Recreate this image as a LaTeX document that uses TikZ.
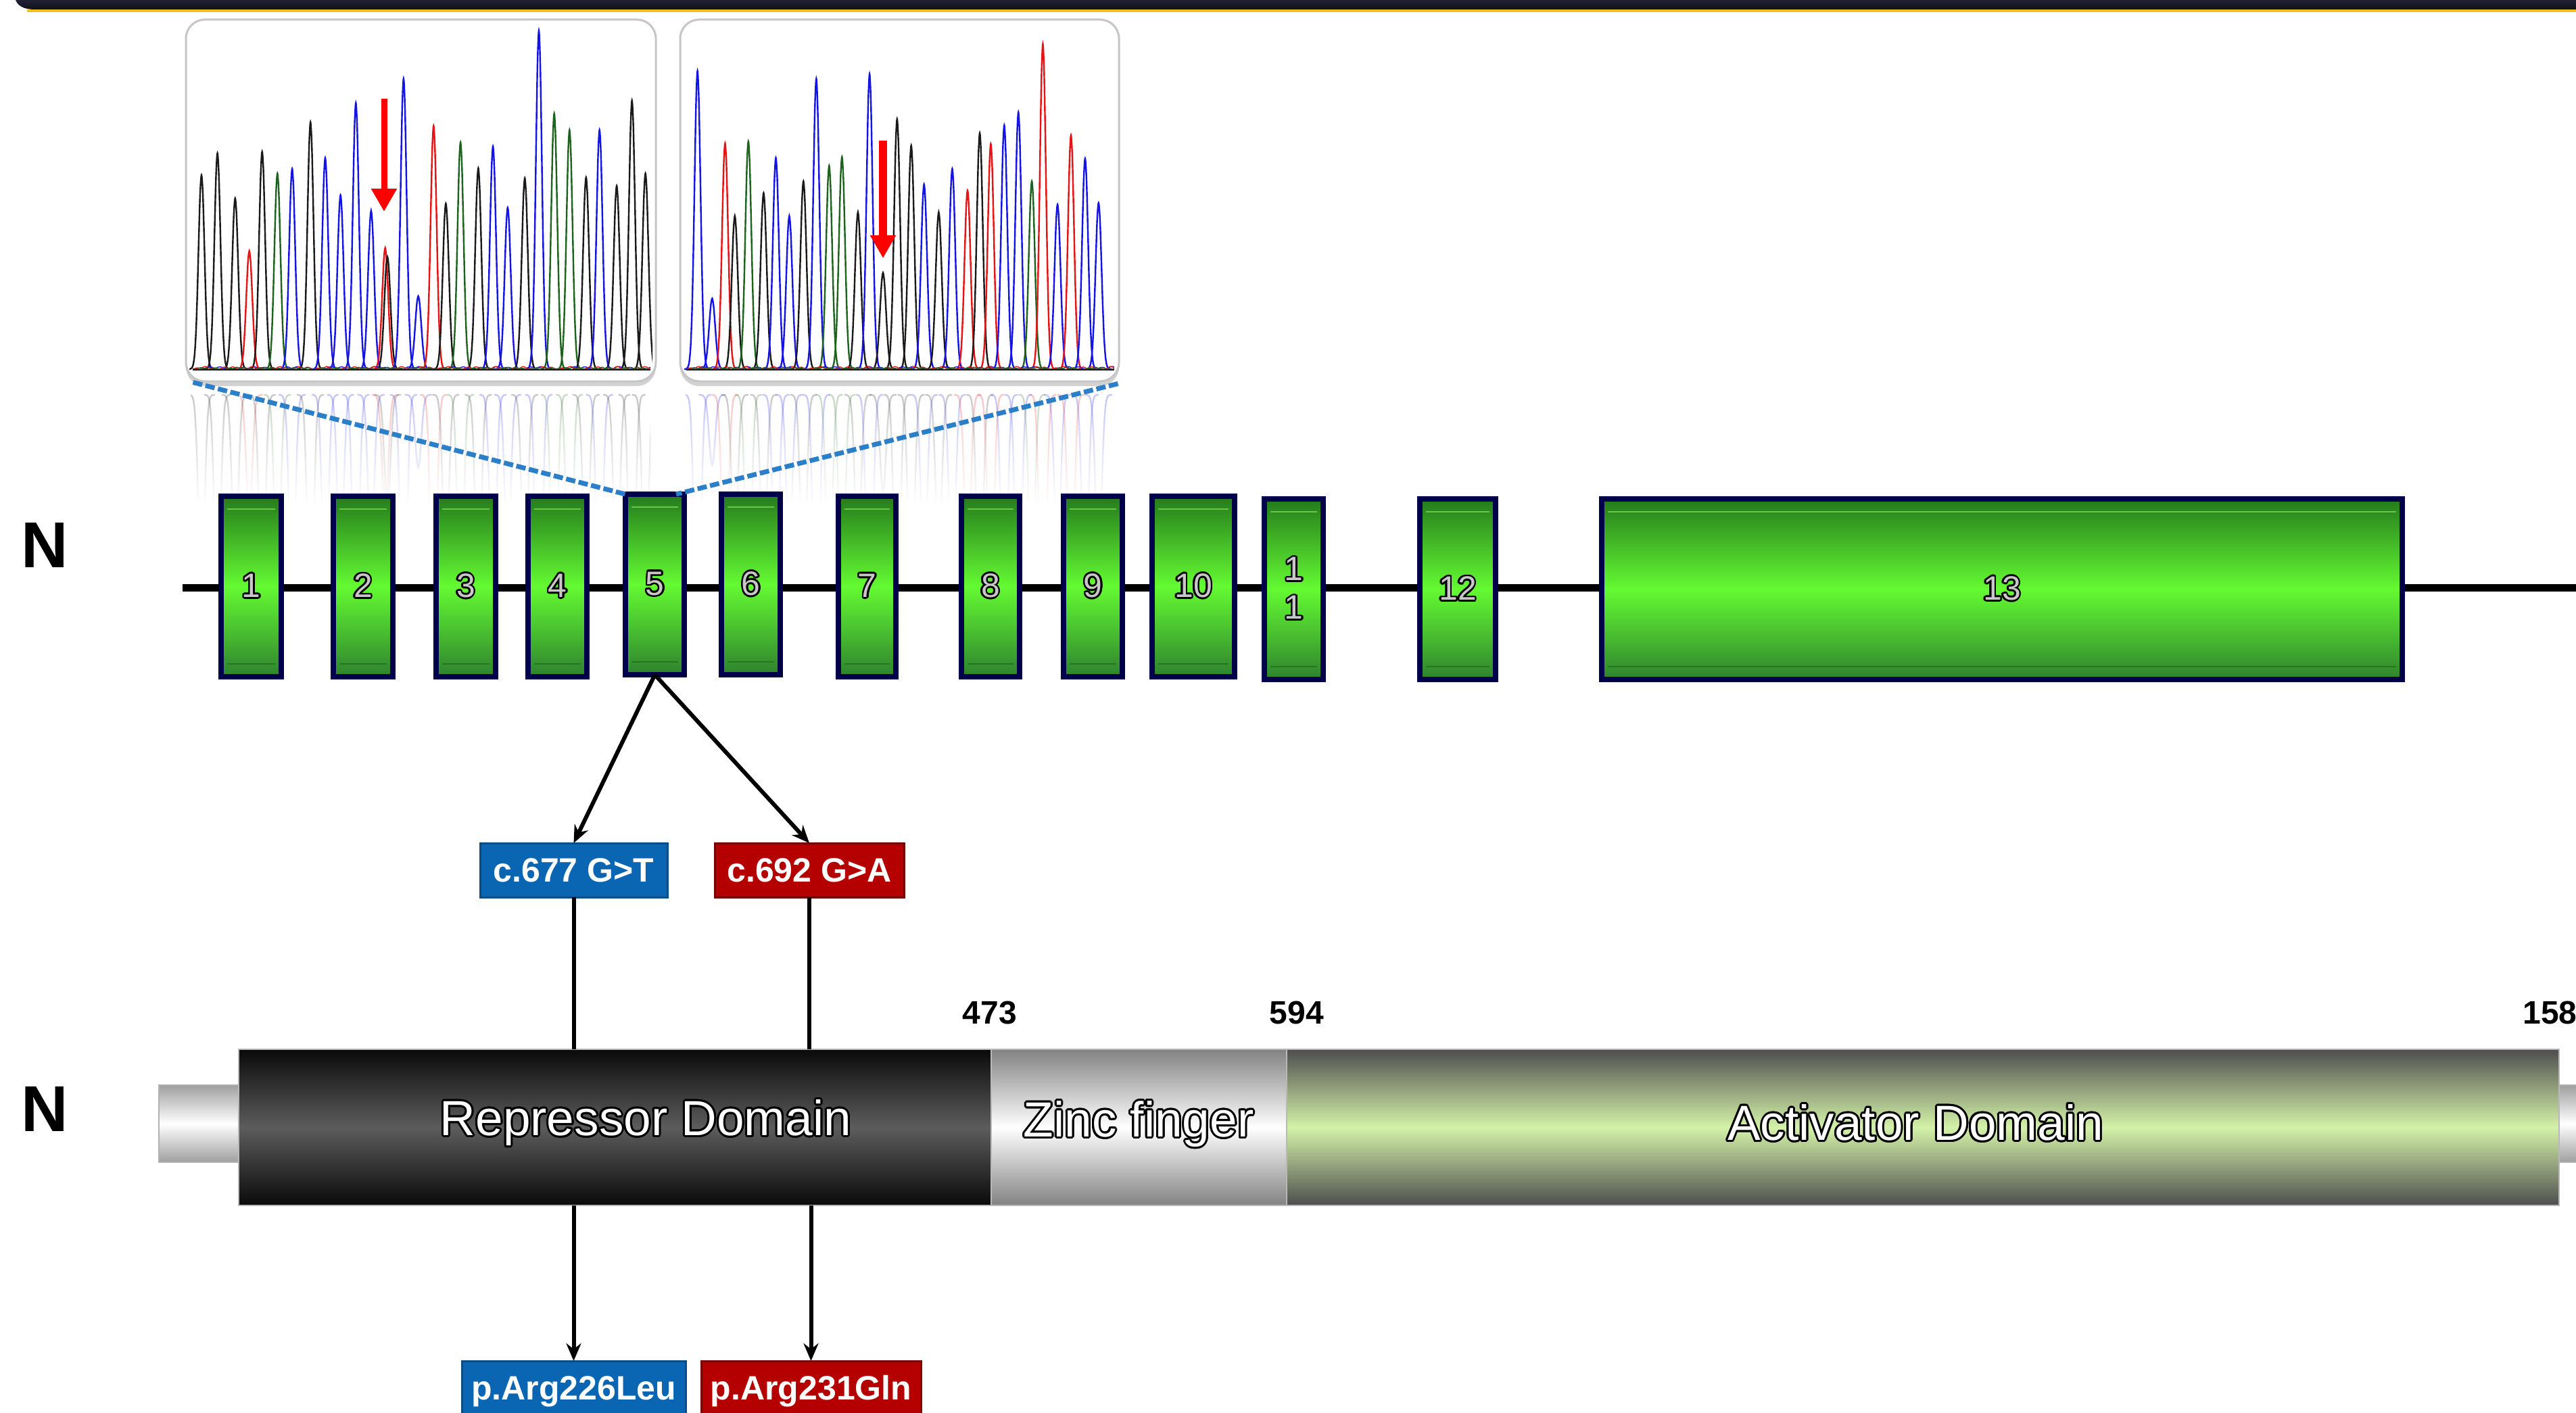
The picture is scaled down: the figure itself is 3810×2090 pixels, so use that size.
\documentclass[tikz,border=0pt]{standalone}
\usepackage{fontspec}
\setmainfont{Liberation Sans}
\usepackage[copies]{contour}
\usetikzlibrary{arrows.meta,fadings,shadows}

% palette
\definecolor{barBlue}{HTML}{50558A}
\definecolor{barDark}{HTML}{101018}
\definecolor{barGold}{HTML}{F0C020}
\definecolor{pkK}{HTML}{1A1A1A}
\definecolor{pkB}{HTML}{1414E6}
\definecolor{pkR}{HTML}{E61414}
\definecolor{pkG}{HTML}{1E641E}
\definecolor{exTop}{HTML}{247A1C}
\definecolor{exMid}{HTML}{64FA32}
\definecolor{exBot}{HTML}{2E822E}
\definecolor{exEdge}{HTML}{00004A}
\definecolor{exDigit}{HTML}{C8C8C8}
\definecolor{zoomBlue}{HTML}{2A7FC8}
\definecolor{mutBlue}{HTML}{0A66B2}
\definecolor{mutBlueEdge}{HTML}{084C88}
\definecolor{mutRed}{HTML}{B40000}
\definecolor{mutRedEdge}{HTML}{7A0000}
\definecolor{repDark}{HTML}{0A0A0A}
\definecolor{repMid}{HTML}{5C5C5C}
\definecolor{znEdge}{HTML}{828282}
\definecolor{actEdge}{HTML}{4E4E4E}
\definecolor{actMid}{HTML}{D4F2A8}

\newcommand\exlab[1]{{\contourlength{2.6pt}\contour{black}{\textcolor{exDigit}{#1}}}}
\newcommand\domlab[1]{{\contourlength{3pt}\contour{black}{\textcolor{white}{#1}}}}

% sequencing peaks: x / top y / trace colour
\def\peaksA{298/259/K, 321.6/226.6/K, 347.8/293.2/K, 368.7/371.3/R, 387.7/224.3/K, 410.3/256.5/G, 432.1/249.6/B, 459.2/180.7/K, 481/233.5/B, 503.6/288.6/B, 526.3/152.2/B, 548.9/311.6/B, 569.7/366.7/R, 573/380/K, 596.9/116.4/B, 618.6/437.9/B, 641.3/186.2/R, 659.4/301/K, 681.1/210.6/G, 707.4/248.7/K, 729.1/216.5/B, 750.9/307/B, 776.2/263.4/K, 797/45.3/B, 819.7/167.9/G, 842.3/192.2/G, 866.8/262.4/K, 886.7/192.2/B, 912.1/274.8/K, 934.7/148.6/K, 954.6/256.5/K}
\def\peaksB{1031.6/105/B, 1053.3/441.5/B, 1072.4/211.9/R, 1086.8/319.4/K, 1106.8/209.2/G, 1129.4/285.4/K, 1147.5/233.5/B, 1167.4/319.4/B, 1188.3/268/K, 1207.3/116.4/B, 1226.3/245/G, 1245.3/232.1/G, 1268.9/313.9/K, 1286.1/109.5/B, 1306/403.4/K, 1326.8/176.1/K, 1347.7/215.2/K, 1366.7/272.5/B, 1388.4/313.9/K, 1408.4/249.6/B, 1431/281.7/R, 1449.1/196.8/K, 1465.4/212.9/R, 1485.3/185.3/B, 1506.2/166/B, 1526.1/268/G, 1542.4/65/R, 1564.1/302.4/B, 1584/200/R, 1604.9/234.4/B, 1624.8/300.1/B}

% low baseline noise of the four traces, starting at x=#1 over a run of #2
\newcommand\tracenoise[2]{%
  \draw[pkB, line width=1.3pt] plot[domain=0:#2, samples=220] ({#1+\x},{546-4*abs(sin(11*\x))*abs(sin(3*\x))});
  \draw[pkR, line width=1.3pt] plot[domain=0:#2, samples=220] ({#1+\x},{546-4*abs(sin(13*\x+30))*abs(sin(5*\x))});
  \draw[pkG, line width=1.3pt] plot[domain=0:#2, samples=220] ({#1+\x},{546-3*abs(sin(17*\x+60))*abs(sin(4*\x))});
  \draw[pkK, line width=2pt] (#1,547) -- ({#1+#2},547);
}

\begin{document}
\begin{tikzpicture}[x=1pt,y=-1pt,
  chrframe/.style={draw=gray!45, line width=3pt, fill=white, rounded corners=28pt, inner sep=0pt,
    drop shadow={shadow xshift=0pt, shadow yshift=-7pt, opacity=0.35, fill=gray}},
  trace/.style={line width=2.4pt},
  exonbox/.style={draw=exEdge, line width=8pt, top color=exTop, bottom color=exBot, middle color=exMid,
    inner sep=0pt, outer sep=0pt, minimum height=267pt, font=\fontsize{50}{57}\selectfont, align=center},
  mutbox/.style={inner sep=0pt, outer sep=0pt, minimum height=80pt, line width=3pt, text=white,
    font=\bfseries\fontsize{50}{56}\selectfont},
  bluemut/.style={mutbox, fill=mutBlue, draw=mutBlueEdge},
  redmut/.style={mutbox, fill=mutRed, draw=mutRedEdge},
  domainbox/.style={inner sep=0pt, outer sep=0pt, draw=gray!55, line width=1.5pt, minimum height=231pt},
  stubbox/.style={inner sep=0pt, outer sep=0pt, draw=gray!60, line width=1.5pt, minimum height=114pt,
    top color=gray!75, bottom color=gray!75, middle color=white},
  domtext/.style={font=\fontsize{73}{80}\selectfont},
  poslabel/.style={font=\bfseries\fontsize{48}{52}\selectfont},
  termlabel/.style={font=\bfseries\fontsize{96}{100}\selectfont},
  conn/.style={line width=6pt, black, -{Stealth[length=26pt,width=22pt]}},
  connline/.style={line width=6pt, black},
  redmark/.style={draw=red, -{Triangle[length=34pt,width=36pt]}},
  zoomline/.style={zoomBlue, line width=7pt, dash pattern=on 14pt off 5pt}
]
\useasboundingbox (0,0) rectangle (3810,2090);
\fill[white] (0,0) rectangle (3810,2090);

% title bar along the top edge
\shade[top color=barBlue, middle color=barBlue, bottom color=barDark]
  (22,-40) -- (22,-4) .. controls (24,8) and (34,14) .. (52,14) -- (3850,14) -- (3850,-40) -- cycle;
\draw[barGold, line width=4pt] (40,16) -- (3850,16);

% chromatogram frames
\node[chrframe, minimum width=695pt, minimum height=535pt] (chr1) at (622.5,296.5) {};
\node[chrframe, minimum width=649pt, minimum height=535pt] (chr2) at (1330.5,296.5) {};

% traces, panel 1
\begin{scope}
  \clip (280,35) rectangle (965,556);
  \foreach \px/\py/\pc in \peaksA {
    \draw[trace, color=pk\pc] plot[domain=-20:20, samples=21, smooth]
      ({\px+\x},{546-(546-\py)*exp(-((\x)^2)/40)});
  }
  \tracenoise{285}{677}
\end{scope}

% traces, panel 2
\begin{scope}
  \clip (1012,35) rectangle (1650,556);
  \foreach \px/\py/\pc in \peaksB {
    \draw[trace, color=pk\pc] plot[domain=-20:20, samples=21, smooth]
      ({\px+\x},{546-(546-\py)*exp(-((\x)^2)/40)});
  }
  \tracenoise{1015}{633}
\end{scope}

% mirrored traces under the frames
\begin{scope}
  \clip (282,574) rectangle (962,745);
  \foreach \px/\py/\pc in \peaksA {
    \draw[trace, color=pk\pc, opacity=0.25] plot[domain=-20:20, samples=21, smooth]
      ({\px+\x},{584+(546-\py)*exp(-((\x)^2)/40)});
  }
\end{scope}
\begin{scope}
  \clip (1014,574) rectangle (1648,745);
  \foreach \px/\py/\pc in \peaksB {
    \draw[trace, color=pk\pc, opacity=0.25] plot[domain=-20:20, samples=21, smooth]
      ({\px+\x},{584+(546-\py)*exp(-((\x)^2)/40)});
  }
\end{scope}
\fill[white, path fading=north] (262,572) rectangle (1670,748);

% markers at the variant positions
\coordinate (m1a) at (568,146);
\coordinate (m1b) at (568,313);
\coordinate (m2a) at (1306,208);
\coordinate (m2b) at (1306,382);
\draw[redmark, line width=9pt] (m1a) -- (m1b);
\draw[redmark, line width=12pt] (m2a) -- (m2b);

% gene: intron line and exons
\coordinate (gl) at (270,869);
\coordinate (gr) at (3850,869);
\draw[black, line width=11pt] (gl) -- (gr);

\node[termlabel] (nGene) at (66,806) {N};

\node[exonbox, minimum width=89pt]   (e1)  at (371.5,867.5) {\exlab{1}};
\node[exonbox, minimum width=88pt]   (e2)  at (537,867.5)   {\exlab{2}};
\node[exonbox, minimum width=88pt]   (e3)  at (689,867.5)   {\exlab{3}};
\node[exonbox, minimum width=87pt]   (e4)  at (824.5,867.5) {\exlab{4}};
\node[exonbox, minimum width=87pt]   (e5)  at (968.5,864.5) {\exlab{5}};
\node[exonbox, minimum width=87pt]   (e6)  at (1110.5,864.5){\exlab{6}};
\node[exonbox, minimum width=85pt]   (e7)  at (1282.5,867.5){\exlab{7}};
\node[exonbox, minimum width=86pt]   (e8)  at (1465,867.5)  {\exlab{8}};
\node[exonbox, minimum width=87pt]   (e9)  at (1616.5,867.5){\exlab{9}};
\node[exonbox, minimum width=122pt]  (e10) at (1765,867.5)  {\exlab{10}};
\node[exonbox, minimum width=87pt]   (e11) at (1913.5,871.5){\exlab{1}\\\exlab{1}};
\node[exonbox, minimum width=112pt]  (e12) at (2156,871.5)  {\exlab{12}};
\node[exonbox, minimum width=1184pt] (e13) at (2961,871.5)  {\exlab{13}};

% bevel lines inside each exon
\foreach \e in {e1,e2,e3,e4,e5,e6,e7,e8,e9,e10,e11,e12,e13} {
  \draw[exMid!70!white, line width=2pt, opacity=0.55]
    ([shift={(9,19)}]\e.north west) -- ([shift={(-9,19)}]\e.north east);
  \draw[exTop!70!black, line width=2pt, opacity=0.5]
    ([shift={(9,-19)}]\e.south west) -- ([shift={(-9,-19)}]\e.south east);
}

% zoom lines from the frames to exon 5
\draw[zoomline] ([shift={(12,0)}]chr1.south west) -- (e5.north west);
\draw[zoomline] ([shift={(-3,2)}]chr2.south east) -- ([shift={(-12,0)}]e5.north east);

% variants
\node[bluemut, minimum width=277pt] (c1) at (848.5,1287) {c.677 G>T};
\node[redmut,  minimum width=280pt] (c2) at (1197,1287)  {c.692 G>A};
\draw[conn] (e5.south) -- (c1.north);
\draw[conn] (e5.south) -- (c2.north);

% protein
\node[termlabel] (nProt) at (66,1640) {N};
\node[stubbox, minimum width=118pt] (stubL) at (294,1662) {};
\node[stubbox, minimum width=65pt]  (stubR) at (3817,1662) {};
\node[domainbox, minimum width=1113pt, top color=repDark, bottom color=repDark, middle color=repMid] (rep)  at (909.5,1667.5) {};
\node[domainbox, minimum width=437pt,  top color=znEdge,  bottom color=znEdge,  middle color=white]  (zinc) at (1684.5,1667.5) {};
\node[domainbox, minimum width=1882pt, top color=actEdge, bottom color=actEdge, middle color=actMid] (act)  at (2844,1667.5) {};

\node[domtext] (repText)  at (955,1662)  {\domlab{Repressor Domain}};
\node[domtext] (zincText) at (1684,1664) {\domlab{Zinc finger}};
\node[domtext] (actText)  at (2833,1662) {\domlab{Activator Domain}};

\node[poslabel] (p473) at (1464,1498) {473};
\node[poslabel] (p594) at (1918,1498) {594};
\node[poslabel, anchor=west] (pEnd) at (3728,1498) {158};

\node[bluemut, minimum width=331pt, minimum height=90pt] (p1) at (848.5,2058) {p.Arg226Leu};
\node[redmut,  minimum width=325pt, minimum height=90pt] (p2) at (1199.5,2058) {p.Arg231Gln};

\draw[connline] (c1.south) -- (c1.south |- rep.north);
\draw[connline] (c2.south) -- (c2.south |- rep.north);
\draw[conn] (p1.north |- rep.south) -- (p1.north);
\draw[conn] (p2.north |- rep.south) -- (p2.north);
\end{tikzpicture}
\end{document}
